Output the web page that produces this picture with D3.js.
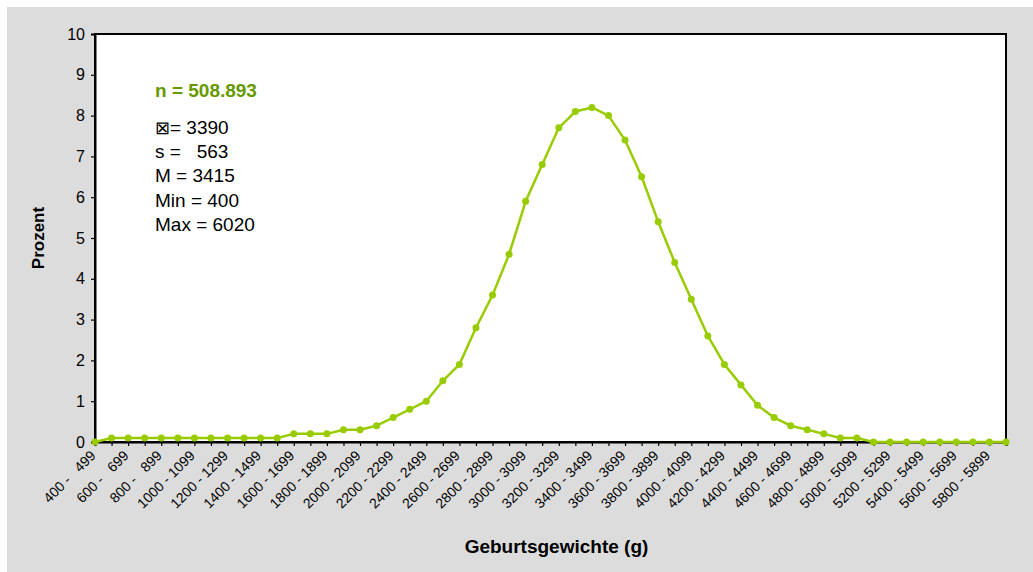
<!DOCTYPE html>
<html>
<head>
<meta charset="utf-8">
<script src="https://cdn.jsdelivr.net/npm/d3@7"></script>
<style>
  html, body { margin: 0; padding: 0; background: #ffffff; }
  svg text { font-family: "Liberation Sans", Arial, sans-serif; white-space: pre; }
</style>
</head>
<body>
<svg id="chart" width="1033" height="572"></svg>
<script>
// ---- data ----
const categories = [
  "400 -   499","500 -   599","600 -   699","700 -   799","800 -   899","900 -   999",
  "1000 - 1099","1100 - 1199","1200 - 1299","1300 - 1399","1400 - 1499","1500 - 1599",
  "1600 - 1699","1700 - 1799","1800 - 1899","1900 - 1999","2000 - 2099","2100 - 2199",
  "2200 - 2299","2300 - 2399","2400 - 2499","2500 - 2599","2600 - 2699","2700 - 2799",
  "2800 - 2899","2900 - 2999","3000 - 3099","3100 - 3199","3200 - 3299","3300 - 3399",
  "3400 - 3499","3500 - 3599","3600 - 3699","3700 - 3799","3800 - 3899","3900 - 3999",
  "4000 - 4099","4100 - 4199","4200 - 4299","4300 - 4399","4400 - 4499","4500 - 4599",
  "4600 - 4699","4700 - 4799","4800 - 4899","4900 - 4999","5000 - 5099","5100 - 5199",
  "5200 - 5299","5300 - 5399","5400 - 5499","5500 - 5599","5600 - 5699","5700 - 5799",
  "5800 - 5899","5900 - 5999"
];
const percent = [
  0, 0.1, 0.1, 0.1, 0.1, 0.1, 0.1, 0.1, 0.1, 0.1, 0.1, 0.1,
  0.2, 0.2, 0.2, 0.3, 0.3, 0.4, 0.6, 0.8,
  1.0, 1.5, 1.9, 2.8, 3.6, 4.6, 5.9, 6.8, 7.7, 8.1, 8.2, 8.0, 7.4, 6.5, 5.4, 4.4,
  3.5, 2.6, 1.9, 1.4, 0.9, 0.6, 0.4, 0.3, 0.2, 0.1, 0.1,
  0, 0, 0, 0, 0, 0, 0, 0, 0
];
const yTicks = [0, 1, 2, 3, 4, 5, 6, 7, 8, 9, 10];
const nLabel = "n = 508.893";
const meanSymbol = "\u22A0";
const statLines = [meanSymbol + "= 3390", "s =   563", "M = 3415", "Min = 400", "Max = 6020"];
const xTitle = "Geburtsgewichte (g)";
const yTitle = "Prozent";

// ---- layout ----
const svg = d3.select("#chart");
const W = 1033, H = 572;
const plot = { left: 95, right: 1006, top: 34, bottom: 442 };

svg.append("rect").attr("x", 7).attr("y", 7).attr("width", W - 7).attr("height", H - 7)
  .attr("fill", "#dcdcdc");
svg.append("rect").attr("x", plot.left).attr("y", plot.top)
  .attr("width", plot.right - plot.left).attr("height", plot.bottom - plot.top)
  .attr("fill", "#ffffff").attr("stroke", "#000").attr("stroke-width", 2);

const x = d3.scalePoint().domain(categories).range([plot.left, plot.right]);
const y = d3.scaleLinear().domain([0, 10]).range([plot.bottom, plot.top]);

// y axis
const yAxis = svg.append("g").attr("transform", `translate(${plot.left},0)`)
  .call(d3.axisLeft(y).tickValues(yTicks).tickSize(4).tickPadding(6).tickFormat(d3.format("d")));
yAxis.select(".domain").attr("stroke", "#000").attr("stroke-width", 2);
yAxis.selectAll(".tick line").attr("stroke", "#000").attr("stroke-width", 1.2);
yAxis.selectAll(".tick text").attr("font-size", 16).attr("fill", "#000")
  .attr("font-family", "Liberation Sans, Arial, sans-serif");

// x axis
const xAxis = svg.append("g").attr("transform", `translate(0,${plot.bottom})`)
  .call(d3.axisBottom(x).tickSize(4).tickFormat(""));
xAxis.select(".domain").attr("stroke", "#000").attr("stroke-width", 2);
xAxis.selectAll(".tick line").attr("stroke", "#000").attr("stroke-width", 1.2);

// x labels (every other category)
svg.append("g").selectAll("text")
  .data(categories.filter((d, i) => i % 2 === 0))
  .join("text")
  .attr("transform", d => `translate(${x(d) - 2},${plot.bottom + 11}) rotate(-45)`)
  .attr("text-anchor", "end")
  .attr("dy", "0.35em")
  .attr("font-size", 14)
  .attr("fill", "#000")
  .text(d => d);

// line + markers
const line = d3.line().x((d, i) => x(categories[i])).y(d => y(d));
svg.append("path").datum(percent)
  .attr("d", line).attr("fill", "none")
  .attr("stroke", "#99cc00").attr("stroke-width", 2.5).attr("stroke-linejoin", "round");
svg.append("g").selectAll("circle").data(percent).join("circle")
  .attr("cx", (d, i) => x(categories[i])).attr("cy", d => y(d)).attr("r", 3.5)
  .attr("fill", "#99cc00");

// annotation
svg.append("text").attr("x", 155).attr("y", 97)
  .attr("font-size", 19).attr("font-weight", "bold").attr("fill", "#669900").text(nLabel);
const stats = svg.append("g").selectAll("text").data(statLines).join("text")
  .attr("x", 155).attr("y", (d, i) => 133.5 + i * 24.4)
  .attr("font-size", 19).attr("fill", "#000");
stats.each(function (d) {
  const t = d3.select(this);
  if (d.startsWith(meanSymbol)) {
    t.append("tspan").attr("font-family", "DejaVu Sans").attr("font-size", 18)
      .attr("font-weight", 300).text(meanSymbol);
    t.append("tspan").text(d.slice(meanSymbol.length));
  } else {
    t.text(d);
  }
});

// axis titles
svg.append("text").attr("x", (plot.left + plot.right) / 2 + 6).attr("y", 553)
  .attr("text-anchor", "middle").attr("font-size", 19).attr("font-weight", "bold")
  .attr("fill", "#000").text(xTitle);
svg.append("text").attr("transform", `translate(44,${(plot.top + plot.bottom) / 2}) rotate(-90)`)
  .attr("text-anchor", "middle").attr("font-size", 17).attr("font-weight", "bold")
  .attr("fill", "#000").text(yTitle);
</script>
</body>
</html>
